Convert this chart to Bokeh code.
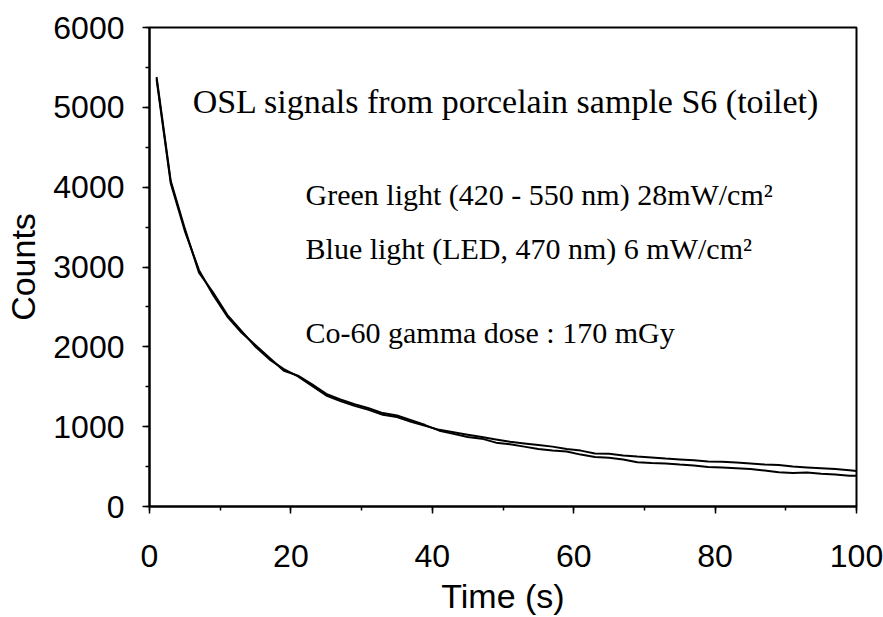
from bokeh.plotting import figure
from bokeh.models import Range1d, SingleIntervalTicker
from bokeh.embed import file_html
from bokeh.resources import INLINE
from bokeh.core.properties import value

# Data
time_s = [1, 3, 5, 7, 9, 11, 13, 15, 17, 19, 21, 23, 25, 27, 29, 31, 33, 35, 37, 39,
          41, 43, 45, 47, 49, 51, 53, 55, 57, 59, 61, 63, 65, 67, 69, 71, 73, 75, 77, 79,
          81, 83, 85, 87, 89, 91, 93, 95, 97, 99, 100]
green_counts = [5380, 4080, 3480, 2930, 2680, 2400, 2200, 2000, 1840, 1720, 1630, 1510, 1390, 1320, 1260,
                1210, 1150, 1120, 1060, 1010, 960, 930, 900, 870, 840, 810, 790, 770, 750, 720,
                700, 665, 660, 640, 625, 615, 600, 590, 580, 565, 560, 550, 540, 525, 520,
                500, 490, 480, 470, 455, 446]
blue_counts = [5350, 4050, 3450, 2960, 2650, 2380, 2180, 2020, 1860, 1700, 1640, 1530, 1410, 1340, 1280,
               1230, 1170, 1140, 1080, 1020, 950, 910, 870, 850, 800, 780, 750, 720, 700, 690,
               650, 620, 610, 590, 555, 545, 540, 525, 515, 495, 490, 480, 470, 450, 430,
               420, 425, 410, 400, 385, 384]

title_text = "OSL signals from porcelain sample S6 (toilet)"
note_texts = ["Green light (420 - 550 nm) 28mW/cm\u00b2",
              "Blue light (LED, 470 nm) 6 mW/cm\u00b2",
              "Co-60 gamma dose : 170 mGy"]

p = figure(width=883, height=617, output_backend="svg", toolbar_location=None,
           x_range=Range1d(0, 100), y_range=Range1d(0, 6000),
           min_border_left=149, min_border_right=27, min_border_top=27, min_border_bottom=106)

p.background_fill_color = "white"
p.border_fill_color = "white"
p.outline_line_color = "black"
p.outline_line_width = 2
p.xgrid.visible = False
p.ygrid.visible = False

p.xaxis.ticker = SingleIntervalTicker(interval=20, num_minor_ticks=2)
p.yaxis.ticker = SingleIntervalTicker(interval=1000, num_minor_ticks=2)

for ax in (p.xaxis, p.yaxis):
    ax.axis_line_color = "black"
    ax.axis_line_width = 2
    ax.major_tick_line_color = "black"
    ax.major_tick_line_width = 1.5
    ax.minor_tick_line_color = "black"
    ax.minor_tick_line_width = 1.5
    ax.major_tick_in = 0
    ax.major_tick_out = 7
    ax.minor_tick_in = 0
    ax.minor_tick_out = 4
    ax.major_label_text_font = "Liberation Sans"
    ax.major_label_text_font_size = "32px"
    ax.major_label_text_color = "black"
    ax.axis_label_text_font = "Liberation Sans"
    ax.axis_label_text_font_size = "34px"
    ax.axis_label_text_font_style = "normal"
    ax.axis_label_text_color = "black"

p.xaxis.axis_label = "Time (s)"
p.yaxis.axis_label = "Counts"
p.xaxis.major_label_standoff = 31
p.xaxis.axis_label_standoff = 7
p.yaxis.major_label_standoff = 18
p.yaxis.axis_label_standoff = 8

p.line(time_s, green_counts, line_color="black", line_width=2)
p.line(time_s, blue_counts, line_color="black", line_width=2)

p.text(x=[6.1], y=[5070], text=[title_text], text_font=value("Liberation Serif"),
       text_font_size="34px", text_baseline="alphabetic", text_align="left", text_color="black")
p.text(x=[22.07, 22.07, 22.07], y=[3905, 3235, 2182], text=note_texts,
       text_font=value("Liberation Serif"), text_font_size="30px",
       text_baseline="alphabetic", text_align="left", text_color="black")

open("out.html", "w").write(file_html(p, INLINE))
